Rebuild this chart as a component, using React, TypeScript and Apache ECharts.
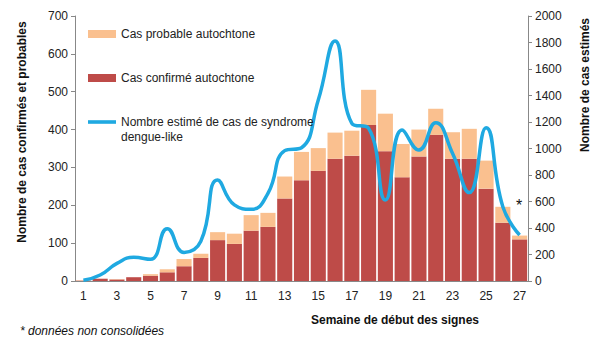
import React, { useEffect, useRef } from "react";
import * as echarts from "echarts";

const weeks = ["1","2","3","4","5","6","7","8","9","10","11","12","13","14","15","16","17","18","19","20","21","22","23","24","25","26","27"];
const confirmed = [1, 6, 4, 10, 14, 23, 39, 61, 108, 98, 133, 143, 218, 266, 291, 323, 331, 412, 343, 274, 329, 386, 323, 323, 244, 154, 110];
const totalCases = [2, 6, 5, 10, 18, 31, 58, 72, 129, 125, 174, 180, 276, 341, 351, 392, 397, 505, 442, 362, 400, 455, 393, 402, 318, 196, 120];
const probable = totalCases.map((t, i) => t - confirmed[i]);
const estimated = [5, 45, 133, 179, 164, 395, 216, 300, 762, 574, 541, 662, 984, 1006, 1366, 1811, 1190, 1152, 611, 1140, 989, 1195, 964, 667, 1157, 561, 347];

const FONT = "Liberation Sans, Arial, sans-serif";

export default function App() {
  const ref = useRef<HTMLDivElement>(null);
  useEffect(() => {
    const chart = echarts.init(ref.current!, null, { renderer: "svg" });
    chart.setOption({
      animation: false,
      textStyle: { fontFamily: FONT },
      grid: { left: 75, right: 72, top: 16, bottom: 63 },
      legend: {
        orient: "vertical",
        left: 83,
        top: 23,
        itemGap: 32,
        itemWidth: 28,
        itemHeight: 8,
        textStyle: { fontSize: 12, color: "#222", fontFamily: FONT },
        data: [
          { name: "Cas probable autochtone", icon: "rect" },
          { name: "Cas confirmé autochtone", icon: "rect" },
          {
            name: "Nombre estimé de cas de syndrome dengue-like",
            icon: "path://M0,0 M28,8 M0,2.2 L28,2.2 L28,5.8 L0,5.8 Z",
          },
        ],
        formatter: (n: string) => (n.startsWith("Nombre") ? "Nombre estimé de cas de syndrome" : n),
      },
      xAxis: {
        type: "category",
        data: weeks,
        axisLine: { lineStyle: { color: "#888" } },
        axisTick: { show: false },
        axisLabel: { interval: 1, color: "#222", fontSize: 12, margin: 9 },
      },
      yAxis: [
        {
          type: "value",
          min: 0,
          max: 700,
          interval: 100,
          splitLine: { show: false },
          axisLine: { show: true, lineStyle: { color: "#888" } },
          axisTick: { show: true, length: 4, lineStyle: { color: "#888" } },
          axisLabel: { color: "#222", fontSize: 12, margin: 7 },
        },
        {
          type: "value",
          min: 0,
          max: 2000,
          interval: 200,
          splitLine: { show: false },
          axisLine: { show: true, lineStyle: { color: "#888" } },
          axisTick: { show: true, length: 4, lineStyle: { color: "#888" } },
          axisLabel: { color: "#222", fontSize: 12, margin: 7, formatter: (v: number) => String(v) },
        },
      ],
      series: [
        {
          name: "Cas confirmé autochtone",
          type: "bar",
          stack: "cas",
          data: confirmed,
          barCategoryGap: "10%",
          itemStyle: { color: "#BE4B48" },
        },
        {
          name: "Cas probable autochtone",
          type: "bar",
          stack: "cas",
          data: probable,
          itemStyle: { color: "#FAC08F" },
        },
        {
          name: "Nombre estimé de cas de syndrome dengue-like",
          type: "line",
          yAxisIndex: 1,
          data: estimated,
          smooth: 0.5,
          symbol: "none",
          showSymbol: false,
          lineStyle: { color: "#1FA9E1", width: 3.5 },
          itemStyle: { color: "#1FA9E1" },
        },
      ],
      graphic: [
        {
          type: "text",
          left: 121,
          top: 131,
          style: { text: "dengue-like", fontSize: 12, fill: "#222", fontFamily: FONT },
        },
        {
          type: "text",
          x: 22,
          y: 132,
          rotation: Math.PI / 2,
          style: {
            text: "Nombre de cas confirmés et probables",
            fontSize: 12,
            fontWeight: "bold",
            fill: "#111",
            align: "center",
            verticalAlign: "middle",
            fontFamily: FONT,
          },
        },
        {
          type: "text",
          x: 585,
          y: 85,
          rotation: Math.PI / 2,
          style: {
            text: "Nombre de cas estimés",
            fontSize: 12,
            fontWeight: "bold",
            fill: "#111",
            align: "center",
            verticalAlign: "middle",
            fontFamily: FONT,
          },
        },
        {
          type: "text",
          x: 395,
          y: 320,
          style: {
            text: "Semaine de début des signes",
            fontSize: 12,
            fontWeight: "bold",
            fill: "#111",
            align: "center",
            verticalAlign: "middle",
            fontFamily: FONT,
          },
        },
        {
          type: "text",
          x: 20,
          y: 331,
          style: {
            text: "* données non consolidées",
            fontSize: 12,
            fontStyle: "italic",
            fill: "#111",
            align: "left",
            verticalAlign: "middle",
            fontFamily: FONT,
          },
        },
        {
          type: "text",
          x: 519,
          y: 205,
          style: {
            text: "*",
            fontSize: 16,
            fill: "#111",
            align: "center",
            verticalAlign: "middle",
            fontFamily: FONT,
          },
        },
      ],
    });
    return () => chart.dispose();
  }, []);
  return <div ref={ref} style={{ width: 600, height: 344, position: "absolute", left: 0, top: 0 }} />;
}
